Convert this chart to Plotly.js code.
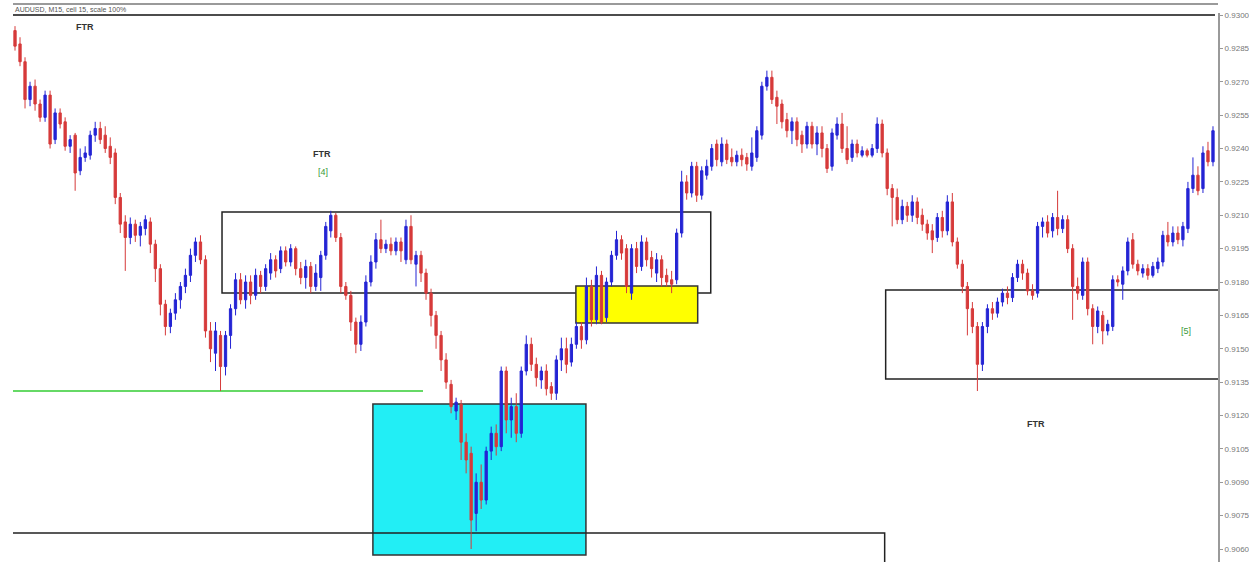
<!DOCTYPE html>
<html>
<head>
<meta charset="utf-8">
<script src="https://cdn.plot.ly/plotly-3.0.1.min.js"></script>
<style>html,body{margin:0;padding:0;background:#fff;}#chart{width:1249px;height:562px;}</style>
</head>
<body>
<div id="chart"></div>
<script>
// AUDUSD M15 candles (prices)
const openP = [
0.9293,0.9287,0.9279,0.9262,0.9268,0.9260,0.9254,0.9264,0.9244,0.9256,
0.9252,0.9241,0.9246,0.9230,0.9236,0.9237,0.9246,0.9249,0.9246,0.9241,
0.9238,0.9218,0.9207,0.9200,0.9206,0.9201,0.9204,0.9207,0.9197,0.9186,
0.9170,0.9160,0.9166,0.9172,0.9178,0.9183,0.9192,0.9198,0.9190,0.9158,
0.9148,0.9156,0.9142,0.9156,0.9168,0.9181,0.9172,0.9180,0.9174,0.9183,
0.9178,0.9184,0.9190,0.9186,0.9194,0.9189,0.9195,0.9186,0.9182,0.9187,
0.9178,0.9182,0.9192,0.9203,0.9210,0.9200,0.9178,0.9174,0.9162,0.9152,
0.9162,0.9180,0.9189,0.9199,0.9195,0.9197,0.9194,0.9198,0.9190,0.9205,
0.9188,0.9192,0.9184,0.9175,0.9165,0.9156,0.9145,0.9134,0.9122,0.9125,
0.9108,0.9103,0.9076,0.9090,0.9082,0.9104,0.9112,0.9106,0.9140,0.9118,
0.9124,0.9112,0.9140,0.9152,0.9143,0.9136,0.9140,0.9133,0.9130,0.9145,
0.9150,0.9144,0.9152,0.9160,0.9154,0.9178,0.9163,0.9183,0.9164,0.9180,
0.9192,0.9199,0.9195,0.9175,0.9195,0.9187,0.9198,0.9191,0.9184,0.9190,
0.9183,0.9181,0.9181,0.9202,0.9225,0.9220,0.9232,0.9219,0.9228,0.9232,
0.9242,0.9234,0.9242,0.9236,0.9234,0.9237,0.9236,0.9232,0.9236,0.9246,
0.9268,0.9272,0.9263,0.9260,0.9253,0.9248,0.9252,0.9246,0.9242,0.9250,
0.9242,0.9247,0.9240,0.9232,0.9246,0.9251,0.9240,0.9236,0.9242,0.9237,
0.9239,0.9237,0.9240,0.9251,0.9238,0.9222,0.9218,0.9208,0.9214,0.9210,
0.9216,0.9210,0.9206,0.9203,0.9200,0.9209,0.9203,0.9216,0.9198,0.9188,
0.9178,0.9168,0.9160,0.9143,0.9160,0.9168,0.9166,0.9171,0.9175,0.9173,
0.9182,0.9188,0.9184,0.9176,0.9175,0.9205,0.9207,0.9203,0.9209,0.9204,
0.9208,0.9195,0.9178,0.9174,0.9189,0.9168,0.9160,0.9165,0.9158,0.9160,
0.9181,0.9179,0.9185,0.9199,0.9188,0.9184,0.9186,0.9183,0.9186,0.9189,
0.9201,0.9198,0.9202,0.9199,0.9204,0.9222,0.9228,0.9222,0.9239,0.9234];
const highP = [
0.9295,0.9290,0.9281,0.9270,0.9271,0.9262,0.9266,0.9266,0.9258,0.9258,
0.9254,0.9246,0.9247,0.9240,0.9241,0.9248,0.9252,0.9252,0.9250,0.9245,
0.9240,0.9220,0.9210,0.9209,0.9208,0.9207,0.9210,0.9209,0.9199,0.9188,
0.9172,0.9168,0.9175,0.9180,0.9186,0.9195,0.9200,0.9201,0.9192,0.9162,
0.9162,0.9158,0.9158,0.9170,0.9184,0.9184,0.9183,0.9183,0.9186,0.9185,
0.9188,0.9193,0.9192,0.9196,0.9196,0.9197,0.9196,0.9189,0.9190,0.9189,
0.9188,0.9194,0.9207,0.9212,0.9211,0.9202,0.9180,0.9176,0.9164,0.9165,
0.9183,0.9192,0.9202,0.9208,0.9199,0.9200,0.9200,0.9200,0.9208,0.9210,
0.9194,0.9194,0.9186,0.9177,0.9167,0.9158,0.9148,0.9136,0.9128,0.9127,
0.9112,0.9106,0.9094,0.9098,0.9106,0.9115,0.9116,0.9142,0.9142,0.9128,
0.9130,0.9142,0.9156,0.9155,0.9146,0.9142,0.9143,0.9135,0.9147,0.9155,
0.9155,0.9155,0.9162,0.9162,0.9182,0.9181,0.9187,0.9185,0.9182,0.9194,
0.9203,0.9201,0.9197,0.9197,0.9198,0.9201,0.9200,0.9194,0.9193,0.9192,
0.9186,0.9185,0.9204,0.9230,0.9228,0.9234,0.9234,0.9232,0.9235,0.9242,
0.9244,0.9245,0.9244,0.9240,0.9239,0.9240,0.9238,0.9245,0.9250,0.9270,
0.9275,0.9275,0.9266,0.9262,0.9256,0.9254,0.9254,0.9248,0.9252,0.9252,
0.9250,0.9250,0.9242,0.9249,0.9254,0.9256,0.9250,0.9244,0.9244,0.9241,
0.9240,0.9242,0.9254,0.9253,0.9240,0.9224,0.9222,0.9217,0.9216,0.9219,
0.9218,0.9213,0.9208,0.9206,0.9211,0.9212,0.9219,0.9220,0.9200,0.9190,
0.9180,0.9171,0.9162,0.9162,0.9170,0.9171,0.9173,0.9177,0.9178,0.9184,
0.9190,0.9190,0.9186,0.9179,0.9207,0.9209,0.9210,0.9211,0.9221,0.9210,
0.9210,0.9197,0.9182,0.9191,0.9191,0.9170,0.9169,0.9167,0.9163,0.9183,
0.9183,0.9187,0.9200,0.9202,0.9190,0.9188,0.9188,0.9189,0.9191,0.9203,
0.9207,0.9205,0.9205,0.9207,0.9225,0.9236,0.9232,0.9241,0.9243,0.9250];
const lowP = [
0.9284,0.9277,0.9258,0.9259,0.9257,0.9252,0.9252,0.9240,0.9242,0.9249,
0.9239,0.9238,0.9221,0.9228,0.9234,0.9235,0.9243,0.9242,0.9238,0.9233,
0.9215,0.9202,0.9185,0.9197,0.9198,0.9196,0.9201,0.9193,0.9180,0.9165,
0.9156,0.9157,0.9163,0.9168,0.9175,0.9180,0.9189,0.9188,0.9155,0.9144,
0.9140,0.9131,0.9138,0.9150,0.9165,0.9170,0.9168,0.9170,0.9172,0.9175,
0.9176,0.9181,0.9182,0.9184,0.9187,0.9187,0.9183,0.9179,0.9177,0.9175,
0.9176,0.9176,0.9190,0.9200,0.9198,0.9175,0.9172,0.9158,0.9148,0.9149,
0.9160,0.9178,0.9186,0.9193,0.9193,0.9192,0.9192,0.9189,0.9188,0.9188,
0.9178,0.9180,0.9172,0.9160,0.9150,0.9140,0.9132,0.9121,0.9118,0.9100,
0.9094,0.9060,0.9068,0.9078,0.9080,0.9100,0.9102,0.9104,0.9112,0.9110,
0.9108,0.9110,0.9138,0.9140,0.9133,0.9132,0.9129,0.9127,0.9127,0.9140,
0.9139,0.9142,0.9150,0.9150,0.9152,0.9160,0.9161,0.9161,0.9162,0.9178,
0.9190,0.9190,0.9175,0.9172,0.9184,0.9185,0.9187,0.9182,0.9180,0.9178,
0.9178,0.9175,0.9179,0.9200,0.9217,0.9218,0.9216,0.9217,0.9226,0.9230,
0.9232,0.9232,0.9233,0.9232,0.9232,0.9232,0.9230,0.9230,0.9234,0.9244,
0.9266,0.9260,0.9251,0.9249,0.9245,0.9242,0.9241,0.9238,0.9240,0.9240,
0.9237,0.9236,0.9229,0.9230,0.9244,0.9238,0.9233,0.9234,0.9236,0.9236,
0.9236,0.9236,0.9238,0.9236,0.9219,0.9205,0.9206,0.9206,0.9207,0.9207,
0.9206,0.9203,0.9199,0.9193,0.9198,0.9200,0.9201,0.9196,0.9186,0.9175,
0.9156,0.9157,0.9131,0.9140,0.9157,0.9163,0.9164,0.9169,0.9170,0.9171,
0.9180,0.9181,0.9174,0.9172,0.9173,0.9200,0.9200,0.9200,0.9201,0.9202,
0.9193,0.9163,0.9172,0.9172,0.9165,0.9152,0.9157,0.9152,0.9156,0.9158,
0.9178,0.9172,0.9183,0.9186,0.9183,0.9182,0.9181,0.9182,0.9184,0.9187,
0.9196,0.9196,0.9197,0.9196,0.9202,0.9220,0.9219,0.9220,0.9232,0.9232];
const closeP = [
0.9286,0.9279,0.9262,0.9268,0.9260,0.9254,0.9264,0.9242,0.9256,0.9251,
0.9241,0.9244,0.9229,0.9236,0.9238,0.9246,0.9249,0.9244,0.9240,0.9236,
0.9218,0.9206,0.9200,0.9206,0.9201,0.9205,0.9208,0.9197,0.9186,0.9170,
0.9160,0.9166,0.9172,0.9178,0.9183,0.9192,0.9198,0.9190,0.9158,0.9150,
0.9158,0.9142,0.9156,0.9168,0.9181,0.9172,0.9180,0.9174,0.9183,0.9178,
0.9186,0.9190,0.9185,0.9194,0.9189,0.9195,0.9186,0.9182,0.9187,0.9178,
0.9184,0.9192,0.9205,0.9210,0.9200,0.9178,0.9174,0.9162,0.9152,0.9162,
0.9180,0.9189,0.9199,0.9195,0.9197,0.9194,0.9198,0.9194,0.9205,0.9190,
0.9192,0.9184,0.9175,0.9165,0.9156,0.9145,0.9135,0.9124,0.9126,0.9108,
0.9100,0.9073,0.9090,0.9082,0.9104,0.9112,0.9106,0.9140,0.9118,0.9124,
0.9112,0.9140,0.9152,0.9143,0.9137,0.9140,0.9132,0.9130,0.9145,0.9150,
0.9143,0.9152,0.9160,0.9154,0.9178,0.9163,0.9183,0.9162,0.9180,0.9192,
0.9199,0.9193,0.9178,0.9195,0.9187,0.9198,0.9190,0.9186,0.9190,0.9182,
0.9180,0.9179,0.9202,0.9225,0.9220,0.9232,0.9219,0.9230,0.9232,0.9240,
0.9235,0.9242,0.9235,0.9234,0.9237,0.9235,0.9233,0.9238,0.9248,0.9268,
0.9272,0.9262,0.9259,0.9252,0.9248,0.9252,0.9244,0.9242,0.9250,0.9242,
0.9247,0.9240,0.9231,0.9247,0.9251,0.9240,0.9235,0.9242,0.9238,0.9239,
0.9237,0.9240,0.9251,0.9238,0.9222,0.9218,0.9208,0.9214,0.9210,0.9216,
0.9209,0.9206,0.9202,0.9199,0.9209,0.9203,0.9216,0.9198,0.9188,0.9178,
0.9168,0.9160,0.9143,0.9160,0.9168,0.9166,0.9171,0.9175,0.9173,0.9182,
0.9188,0.9184,0.9176,0.9174,0.9205,0.9207,0.9202,0.9209,0.9204,0.9208,
0.9195,0.9178,0.9175,0.9189,0.9168,0.9160,0.9167,0.9158,0.9161,0.9181,
0.9180,0.9185,0.9198,0.9188,0.9185,0.9186,0.9183,0.9187,0.9189,0.9201,
0.9198,0.9202,0.9199,0.9205,0.9222,0.9228,0.9221,0.9238,0.9234,0.9248];

const tickVals = [0.9300,0.9285,0.9270,0.9255,0.9240,0.9225,0.9210,0.9195,0.9180,0.9165,0.9150,0.9135,0.9120,0.9105,0.9090,0.9075,0.9060];
const tickText = tickVals.map(v => v.toFixed(4));
const chartLabel = "AUDUSD, M15, cell 15, scale 100%";
const barIndex = openP.map((_, i) => i);

const BLUE = '#2424d4', RED = '#d63a3a';
const trace = {
  type: 'candlestick', x: barIndex, open: openP, high: highP, low: lowP, close: closeP,
  increasing: {line: {color: BLUE, width: 1}, fillcolor: BLUE},
  decreasing: {line: {color: RED, width: 1}, fillcolor: RED},
  whiskerwidth: 0, hoverinfo: 'skip'
};

const ink = '#222';
const shapes = [
  // top border line at 0.9300
  {type:'line', xref:'x', yref:'y', x0:-0.4, x1:239.4, y0:0.9300, y1:0.9300, line:{color:'#111', width:1.5}, layer:'below'},
  // gray line above chart
  {type:'line', xref:'paper', yref:'paper', x0:0, x1:1, y0:1.0164, y1:1.0164, line:{color:'#9a9a9a', width:2}},
  // FTR box
  {type:'rect', xref:'x', yref:'y', x0:41.3, x1:138.8, y0:0.917506, y1:0.921146, line:{color:ink, width:1.5}, layer:'below'},
  // yellow zone
  {type:'rect', xref:'x', yref:'y', x0:111.9, x1:136.2, y0:0.916157, y1:0.917820, fillcolor:'#ffff00', line:{color:'#333', width:1.5}, layer:'below'},
  // cyan zone
  {type:'rect', xref:'x', yref:'y', x0:71.4, x1:113.9, y0:0.905730, y1:0.912517, fillcolor:'#22eef5', line:{color:'#333', width:1.5}, layer:'below'},
  // bottom black line with drop
  {type:'path', xref:'x', yref:'y', path:'M -0.4,0.906719 L 173.5,0.906719 L 173.5,0.9050', line:{color:ink, width:1.5}, layer:'below'},
  // right box
  {type:'rect', xref:'x', yref:'y', x0:173.7, x1:240.2, y0:0.913640, y1:0.917640, line:{color:ink, width:1.5}, layer:'below'},
  // green support line
  {type:'line', xref:'x', yref:'y', x0:-0.4, x1:81.4, y0:0.913101, y1:0.913101, line:{color:'#33cc33', width:1.5}, layer:'below'}
];

const fLab = {family:'Liberation Sans, Arial, sans-serif', size:9, color:'#333'};
const annotations = [
  {xref:'paper', yref:'paper', x:0, y:1.006, xanchor:'left', yanchor:'middle', text:chartLabel, showarrow:false, font:{family:'Liberation Sans, Arial, sans-serif', size:7, color:'#555'}},
  {x:14.0, y:0.92946, text:'<b>FTR</b>', showarrow:false, font:fLab},
  {x:61.2, y:0.92375, text:'<b>FTR</b>', showarrow:false, font:fLab},
  {x:61.4, y:0.92294, text:'[4]', showarrow:false, font:{family:'Liberation Sans, Arial, sans-serif', size:9, color:'#3a9a3a'}},
  {x:233.6, y:0.91580, text:'[5]', showarrow:false, font:{family:'Liberation Sans, Arial, sans-serif', size:9, color:'#3a9a3a'}},
  {x:203.7, y:0.91162, text:'<b>FTR</b>', showarrow:false, font:fLab}
];

const layout = {
  width:1249, height:562,
  margin:{l:13, r:31, t:13, b:0, pad:0},
  paper_bgcolor:'#fff', plot_bgcolor:'#fff',
  showlegend:false, hovermode:false, boxgap:0.35,
  xaxis:{range:[-0.4, 240.0], visible:false, rangeslider:{visible:false}, fixedrange:true},
  yaxis:{range:[0.905416, 0.93009], side:'right', showgrid:false, zeroline:false,
    showline:true, linecolor:'#9a9a9a', linewidth:2,
    tickmode:'array', tickvals:tickVals, ticktext:tickText,
    ticks:'outside', ticklen:3, tickcolor:'#999', tickwidth:1,
    tickfont:{family:'Liberation Sans, Arial, sans-serif', size:8, color:'#777'}, fixedrange:true},
  shapes:shapes, annotations:annotations
};

Plotly.newPlot('chart', [trace], layout, {staticPlot:true, displayModeBar:false});
</script>
</body>
</html>
